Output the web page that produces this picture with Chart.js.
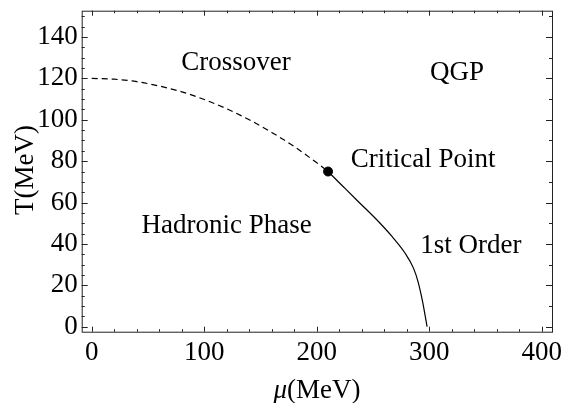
<!DOCTYPE html>
<html>
<head>
<meta charset="utf-8">
<script src="https://cdn.jsdelivr.net/npm/chart.js@4/dist/chart.umd.min.js"></script>
<style>html,body{margin:0;padding:0;background:#fff}</style>
</head>
<body>
<canvas id="c" width="566" height="403"></canvas>
<script>
// crossover line (dashed)
const crossoverMu = [0, 20, 40, 60, 80, 100, 120, 140, 160, 180, 200, 210];
const crossoverT = [120, 119.6, 118.4, 116.3, 113.5, 109.8, 105.3, 100, 93.9, 87, 79.2, 75];
// first order line (solid)
const firstOrderMu = [210, 222, 237, 252, 267, 278.5, 286, 290, 294, 298];
const firstOrderT = [75, 68.5, 60.4, 52.4, 43.5, 35.5, 28.2, 21.7, 12.1, 0];
// critical point
const criticalMu = [210];
const criticalT = [75];
// labels inside the plot
const regionLabels = ['Crossover', 'QGP', 'Critical Point', 'Hadronic Phase', '1st Order'];
const regionMu = [128.3, 324.7, 294.5, 119.8, 337];
const regionT = [124, 119.2, 77.3, 45.3, 35.5];

const FONT = '"Liberation Serif"';

function pts(xs, ys) {
    return xs.map((x, i) => ({ x: x, y: ys[i] }));
}

const framePlugin = {
    id: 'frame',
    afterDraw(chart) {
        const ctx = chart.ctx;
        const ca = chart.chartArea;
        const sx = chart.scales.x, sy = chart.scales.y;
        ctx.save();
        ctx.strokeStyle = '#222';
        ctx.lineWidth = 1;
        ctx.strokeRect(ca.left + 0.5, ca.top + 0.5, ca.right - ca.left, ca.bottom - ca.top);

        // ticks pointing inward
        ctx.beginPath();
        for (let v = 0; v <= 400; v += 20) {
            const px = Math.round(sx.getPixelForValue(v)) + 0.5;
            const len = v % 100 === 0 ? 5 : 2.5;
            ctx.moveTo(px, ca.bottom); ctx.lineTo(px, ca.bottom - len);
            ctx.moveTo(px, ca.top); ctx.lineTo(px, ca.top + len);
        }
        for (let v = 0; v <= 150; v += 5) {
            const py = Math.round(sy.getPixelForValue(v)) + 0.5;
            const len = v % 20 === 0 ? 6 : 3;
            ctx.moveTo(ca.left, py); ctx.lineTo(ca.left + len, py);
            if (v % 10 === 0) {
                ctx.moveTo(ca.right, py); ctx.lineTo(ca.right - len, py);
            }
        }
        ctx.stroke();

        // region labels
        ctx.fillStyle = '#000';
        ctx.font = '27px ' + FONT;
        ctx.textAlign = 'center';
        ctx.textBaseline = 'alphabetic';
        regionLabels.forEach((t, i) => {
            ctx.fillText(t, sx.getPixelForValue(regionMu[i]), sy.getPixelForValue(regionT[i]));
        });

        // x title: italic mu + (MeV)
        ctx.textAlign = 'left';
        ctx.font = 'italic 27px ' + FONT;
        const wMu = ctx.measureText('μ').width;
        ctx.font = '27px ' + FONT;
        const wRest = ctx.measureText('(MeV)').width;
        const x0 = 317 - (wMu + wRest) / 2;
        ctx.font = 'italic 27px ' + FONT;
        ctx.fillText('μ', x0, 398);
        ctx.font = '27px ' + FONT;
        ctx.fillText('(MeV)', x0 + wMu, 398);

        // y title
        ctx.translate(33, 170);
        ctx.rotate(-Math.PI / 2);
        ctx.textAlign = 'center';
        ctx.fillText('T(MeV)', 0, 0);
        ctx.restore();
    }
};

function draw() {
    new Chart(document.getElementById('c'), {
        type: 'scatter',
        data: {
            datasets: [
                {
                    data: pts(crossoverMu, crossoverT),
                    showLine: true,
                    borderColor: '#000',
                    borderWidth: 1.2,
                    borderDash: [6, 4],
                    pointRadius: 0,
                    cubicInterpolationMode: 'monotone'
                },
                {
                    data: pts(firstOrderMu, firstOrderT),
                    showLine: true,
                    borderColor: '#000',
                    borderWidth: 1.2,
                    pointRadius: 0,
                    cubicInterpolationMode: 'monotone'
                },
                {
                    data: pts(criticalMu, criticalT),
                    pointRadius: 4.5,
                    backgroundColor: '#000',
                    borderColor: '#000'
                }
            ]
        },
        options: {
            responsive: false,
            animation: false,
            layout: { padding: { top: 10.7, right: 14, left: 0, bottom: 0 } },
            plugins: { legend: { display: false }, tooltip: { enabled: false } },
            scales: {
                x: {
                    type: 'linear',
                    min: -8.9,
                    max: 409,
                    afterFit: s => {
                        s.height = 71.3;
                        s.paddingLeft = 0;
                        s.paddingRight = 0;
                    },
                    grid: { display: false, drawTicks: false },
                    border: { display: false },
                    ticks: {
                        stepSize: 100,
                        includeBounds: false,
                        autoSkip: false,
                        maxRotation: 0,
                        padding: 5,
                        color: '#000',
                        font: { family: FONT, size: 27 }
                    }
                },
                y: {
                    type: 'linear',
                    min: -2.4,
                    max: 152.7,
                    afterFit: s => {
                        s.width = 81.7;
                        s.paddingTop = 0;
                        s.paddingBottom = 0;
                    },
                    grid: { display: false, drawTicks: false },
                    border: { display: false },
                    ticks: {
                        stepSize: 20,
                        includeBounds: false,
                        autoSkip: false,
                        padding: 4,
                        color: '#000',
                        font: { family: FONT, size: 27 }
                    }
                }
            }
        },
        plugins: [framePlugin]
    });
}

Promise.all([
    document.fonts.load('27px "Liberation Serif"'),
    document.fonts.load('italic 27px "Liberation Serif"')
]).then(draw, draw);
</script>
</body>
</html>
